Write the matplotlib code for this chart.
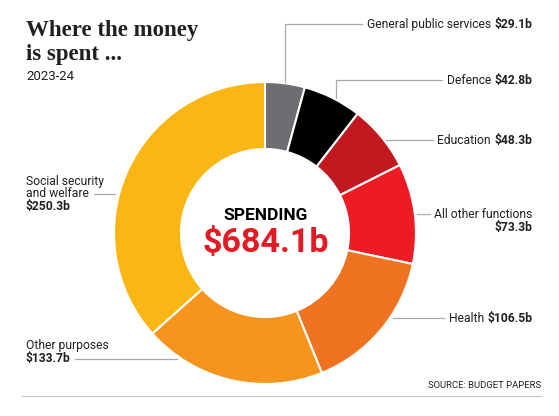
import matplotlib
matplotlib.use("Agg")
import matplotlib.pyplot as plt

# --- data, clockwise from 12 o'clock ---
Labels = ["General public services", "Defence", "Education", "All other functions",
          "Health", "Other purposes", "Social security\nand welfare"]
Values = [29.1, 42.8, 48.3, 73.3, 106.5, 133.7, 250.3]
Value_text = ["$29.1b", "$42.8b", "$48.3b", "$73.3b", "$106.5b", "$133.7b", "$250.3b"]
Colours = ["#6d6e71", "#000000", "#c1191f", "#ed1c24", "#f07322", "#f7941d", "#fbb614"]
Total_text = "$684.1b"

W, H = 559, 416
plt.rcParams["font.family"] = ["Roboto", "DejaVu Sans"]
Ink = "#231f20"


def Y(py):
    # pixel row (top-down) -> data y (bottom-up)
    return H - py


fig = plt.figure(figsize=(W / 100, H / 100), dpi=100)
ax = fig.add_axes([0, 0, 1, 1])

# donut
ax.pie(Values, colors=Colours, startangle=90, counterclock=False,
       center=(265, Y(233)), radius=151,
       wedgeprops=dict(width=67, edgecolor="white", linewidth=1.5))
ax.set_xlim(0, W)
ax.set_ylim(0, H)
ax.set_aspect("auto")
ax.axis("off")

# centre text
ax.text(266, Y(220), "SPENDING", ha="center", va="baseline",
        fontsize=12.5, fontweight="bold", color="black")
ax.text(266, Y(252), Total_text, ha="center", va="baseline",
        fontsize=24.5, fontweight="bold", color="#e31b23")

# title
ax.text(26, Y(36), "Where the money", family="Liberation Serif", fontweight="bold",
        fontsize=16.5, va="baseline", color=Ink)
ax.text(26, Y(60), "is spent ...", family="Liberation Serif", fontweight="bold",
        fontsize=16.5, va="baseline", color=Ink)
ax.text(26, Y(80), "2023-24", fontsize=9.5, va="baseline", color=Ink)

Line_col = "#a7a9ac"
lw = 0.9

# right labels: name + bold value on one line, leader ends just before the text
fs = 8.7
right_rows = [(0, 28), (1, 84), (2, 144), (4, 322)]
starts = {}
for i, py in right_rows:
    t = ax.text(532, Y(py), Value_text[i], ha="right", va="baseline",
                fontsize=fs, fontweight="bold", color=Ink)
    fig.canvas.draw()
    bb = t.get_window_extent()
    t2 = ax.text(bb.x0 - 3, Y(py), Labels[i], ha="right", va="baseline",
                 fontsize=fs, color=Ink)
    fig.canvas.draw()
    starts[i] = t2.get_window_extent().x0 - 5

ax.text(532, Y(218), Labels[3], ha="right", va="baseline", fontsize=fs, color=Ink)
ax.text(532, Y(231), Value_text[3], ha="right", va="baseline", fontsize=fs,
        fontweight="bold", color=Ink)

# leader lines
ax.plot([285, 285, starts[0]], [Y(82), Y(24), Y(24)], color=Line_col, lw=lw)
ax.plot([336, 336, starts[1]], [Y(98), Y(80), Y(80)], color=Line_col, lw=lw)
ax.plot([386, starts[2]], [Y(140), Y(140)], color=Line_col, lw=lw)
ax.plot([417, 430], [Y(214), Y(214)], color=Line_col, lw=lw)
ax.plot([393, starts[4]], [Y(318), Y(318)], color=Line_col, lw=lw)
ax.plot([75, 177], [Y(359), Y(359)], color=Line_col, lw=lw)
ax.plot([94, 115], [Y(194), Y(194)], color=Line_col, lw=lw)

# left labels
ax.text(26, Y(185), "Social security", va="baseline", fontsize=fs, color=Ink)
ax.text(26, Y(197), "and welfare", va="baseline", fontsize=fs, color=Ink)
ax.text(26, Y(210), Value_text[6], va="baseline", fontsize=fs, fontweight="bold",
        color=Ink)
ax.text(26, Y(349), Labels[5], va="baseline", fontsize=fs, color=Ink)
ax.text(26, Y(362), Value_text[5], va="baseline", fontsize=fs, fontweight="bold",
        color=Ink)

# source + rule
ax.text(541, Y(388), "SOURCE: BUDGET PAPERS", ha="right", va="baseline",
        fontsize=6.8, color=Ink)
ax.plot([22, 541], [Y(396), Y(396)], color="#c8c8c8", lw=0.9)

fig.savefig("out.png", dpi=100)
